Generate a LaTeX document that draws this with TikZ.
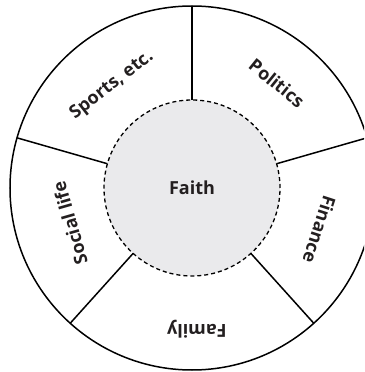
\documentclass[tikz,border=0pt]{standalone}
\usepackage{fontspec}
\setmainfont{Open Sans}
\usepackage{tikz}

\definecolor{faithgray}{HTML}{EAEAEC}
\definecolor{labelink}{HTML}{231F20}

\begin{document}
\begin{tikzpicture}[x=1pt,y=1pt,
  lbl/.style={font=\bfseries\fontsize{18}{20}\selectfont, text=labelink},
  ringline/.style={line width=1.5pt}]
\useasboundingbox (-192,-184) rectangle (172,188);
\clip (-192,-184) rectangle (172,188);

\node (ring) [circle, draw, ringline, outer sep=0pt, minimum size=364pt] at (0,0) {};
\node (faith) [circle, draw, dashed, line width=1.3pt, dash pattern=on 4pt off 3pt,
  fill=faithgray, outer sep=0pt, minimum size=176pt, lbl] at (0,0) {Faith};

% spokes between the two circles
\draw [ringline] (faith.90) -- (ring.90);
\draw [ringline] (faith.164) -- (ring.164);
\draw [ringline] (faith.228) -- (ring.228);
\draw [ringline] (faith.312) -- (ring.312);
\draw [ringline] (faith.16) -- (ring.16);

% labels of the segments
\node (sports) [lbl, rotate=38] at (128:130) {Sports, etc.};
\node (politics) [lbl, rotate=-39] at (51:135) {Politics};
\node (social) [lbl, rotate=106] at (196:127) {Social life};
\node (finance) [lbl, rotate=252] at (342:134) {Finance};
\node (family) [lbl, rotate=180] at (272:141) {Family};
\end{tikzpicture}
\end{document}
